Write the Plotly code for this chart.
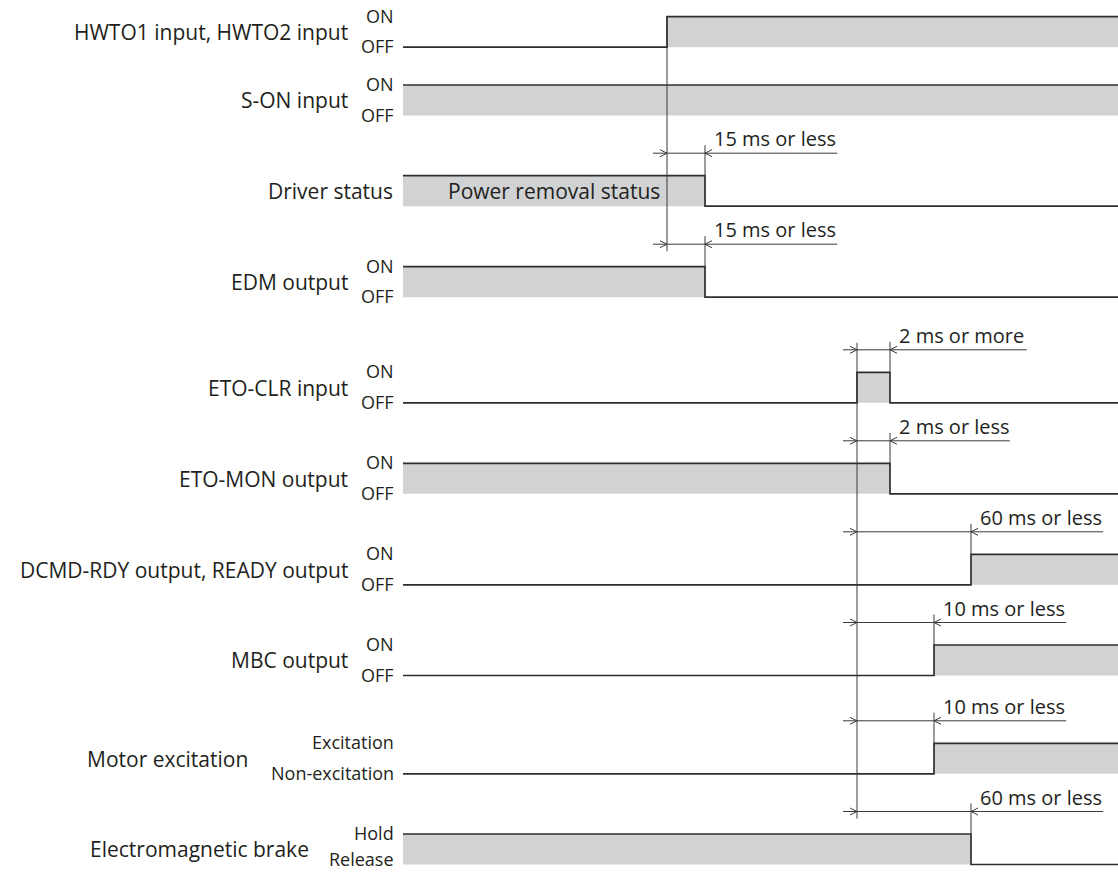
"""
HWTO 入力 OFF→ON からの信号タイミングチャートを描く。
"""
import plotly.graph_objects as go

# ---- データ（時間は図上の相対値、信号開始 = 0） ----
signal_names = [
    "HWTO1 input, HWTO2 input",
    "S-ON input",
    "Driver status",
    "EDM output",
    "ETO-CLR input",
    "ETO-MON output",
    "DCMD-RDY output, READY output",
    "MBC output",
    "Motor excitation",
    "Electromagnetic brake",
]
high_labels = ["ON", "ON", "", "ON", "ON", "ON", "ON", "ON", "Excitation", "Hold"]
low_labels = ["OFF", "OFF", "", "OFF", "OFF", "OFF", "OFF", "OFF", "Non-excitation", "Release"]
# 初期状態 (1 = 上側レベル) と状態が切り替わる時刻
initial_state = [0, 1, 1, 1, 0, 1, 0, 0, 0, 1]
toggle_times = [[264], [], [302], [302], [454, 487], [487], [568], [531], [531], [568]]
t_end = 715
status_text = "Power removal status"

# 時間規定（寸法線）
dim_rows = [2, 3, 4, 5, 6, 7, 8, 9]
dim_from = [264, 264, 454, 454, 454, 454, 454, 454]
dim_to = [302, 302, 487, 487, 568, 531, 531, 568]
dim_labels = [
    "15 ms or less", "15 ms or less", "2 ms or more", "2 ms or less",
    "60 ms or less", "10 ms or less", "10 ms or less", "60 ms or less",
]

# ---- レイアウト（ピクセル基準） ----
W, H = 1118, 872
X0 = 403                      # 信号波形の左端
row_top = [16.7, 85, 175.7, 266.7, 372.3, 463.3, 554.3, 645, 743.3, 834]
ROW_H = 30.5
ARROW_DY = 22.5
name_right = [350, 350, 395, 350, 350, 350, 350, 350, 250, 311]

FONT = "Open Sans"
NAME_SIZE = 21
DIM_SIZE = 20
LEVEL_SIZE = 18
TXT = "#231f20"
LINE = "#2e2e2e"
FILL = "#d1d2d4"

# Open Sans のおおよその文字幅 (em)
_CW = {" ": 0.26, "m": 0.855, "s": 0.40, "o": 0.56, "r": 0.41, "l": 0.24, "e": 0.56}


def label_width(s, size):
    # 下線の長さ（文字幅の概算）
    return sum(_CW.get(c, 0.572) for c in s) * size * 1.08


fig = go.Figure()

fill_x, fill_y, wave_x, wave_y = [], [], [], []
for i in range(len(signal_names)):
    top, bot = row_top[i], row_top[i] + ROW_H
    level = initial_state[i]
    edges = [0] + toggle_times[i] + [t_end]
    xs, ys = [], []
    for k in range(len(edges) - 1):
        a, b = edges[k], edges[k + 1]
        yl = top if level else bot
        xs += [a, b]
        ys += [yl, yl]
        if level:
            fill_x += [a, b, b, a, a, None]
            fill_y += [top, top, bot, bot, top, None]
        level = 1 - level
    wave_x += xs + [None]
    wave_y += ys + [None]

fig.add_trace(go.Scatter(x=fill_x, y=fill_y, fill="toself", fillcolor=FILL,
                         mode="none", hoverinfo="skip"))
fig.add_trace(go.Scatter(x=wave_x, y=wave_y, mode="lines",
                         line=dict(color=LINE, width=1.7), hoverinfo="skip"))

# 基準線
thin_x, thin_y = [], []
for t in sorted(set(dim_from)):
    ays = [row_top[r] - ARROW_DY for r, f in zip(dim_rows, dim_from) if f == t]
    src = [i for i in range(len(signal_names)) if t in toggle_times[i]]
    top = min([min(ays) - 7] + [row_top[i] for i in src])
    thin_x += [t, t, None]
    thin_y += [top, max(ays) + 7, None]

# 寸法線と矢印
for r, f, tt, lab in zip(dim_rows, dim_from, dim_to, dim_labels):
    ay = row_top[r] - ARROW_DY
    x_end = tt + 8 + label_width(lab, DIM_SIZE)
    thin_x += [f - 14, x_end, None]
    thin_y += [ay, ay, None]
    # 右向き矢印
    thin_x += [f - 7, f, f - 7, None]
    thin_y += [ay - 3.5, ay, ay + 3.5, None]
    # 左向き矢印
    thin_x += [tt + 7, tt, tt + 7, None]
    thin_y += [ay - 3.5, ay, ay + 3.5, None]
    # 信号エッジの延長
    thin_x += [tt, tt, None]
    thin_y += [ay - 8, row_top[r], None]
    fig.add_annotation(x=tt + 7, y=ay + 1, text=lab, showarrow=False,
                       xanchor="left", yanchor="bottom",
                       font=dict(family=FONT, size=DIM_SIZE, color=TXT))

fig.add_trace(go.Scatter(x=thin_x, y=thin_y, mode="lines",
                         line=dict(color="#3a3a3a", width=1), hoverinfo="skip"))

# ラベル
for i, name in enumerate(signal_names):
    top = row_top[i]
    fig.add_annotation(x=name_right[i] - X0, y=top + ROW_H / 2, text=name,
                       showarrow=False, xanchor="right", yanchor="middle",
                       font=dict(family=FONT, size=NAME_SIZE, color=TXT))
    if high_labels[i]:
        fig.add_annotation(x=-7, y=top - 1, text=high_labels[i], showarrow=False,
                           xanchor="right", yanchor="middle",
                           font=dict(family=FONT, size=LEVEL_SIZE, color=TXT))
        fig.add_annotation(x=-7, y=min(top + ROW_H - 1, H - 13), text=low_labels[i],
                           showarrow=False, xanchor="right", yanchor="middle",
                           font=dict(family=FONT, size=LEVEL_SIZE, color=TXT))

i_status = signal_names.index("Driver status")
fig.add_annotation(x=toggle_times[i_status][0] / 2,
                   y=row_top[i_status] + ROW_H / 2, text=status_text,
                   showarrow=False, xanchor="center", yanchor="middle",
                   font=dict(family=FONT, size=NAME_SIZE, color=TXT))

fig.update_layout(
    width=W, height=H,
    margin=dict(l=0, r=0, t=0, b=0),
    showlegend=False,
    plot_bgcolor="white", paper_bgcolor="white",
    xaxis=dict(range=[-X0, W - X0], visible=False, fixedrange=True),
    yaxis=dict(range=[H, 0], visible=False, fixedrange=True),
)

fig.write_html("out.html", config={"displayModeBar": False},
               post_script="document.body.style.margin='0';")
